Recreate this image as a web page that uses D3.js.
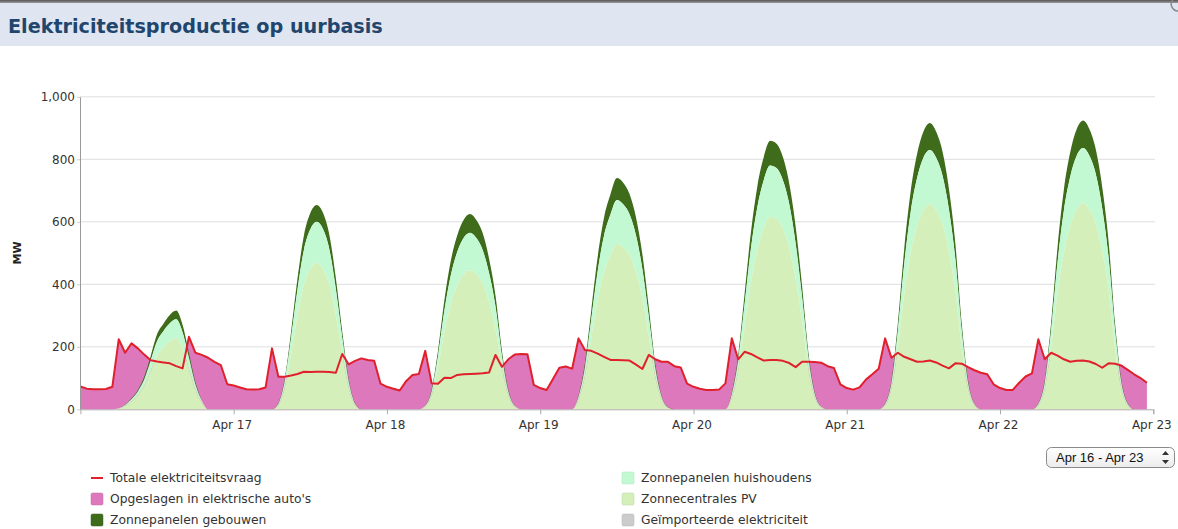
<!DOCTYPE html>
<html>
<head>
<meta charset="utf-8">
<script src="https://cdn.jsdelivr.net/npm/d3@7"></script>
<style>
  html, body { margin: 0; padding: 0; background: #fff; }
  svg { display: block; }
</style>
</head>
<body>
<svg id="chart" width="1178" height="529"></svg>
<script>
// ---------------- DATA ----------------
const title = "Elektriciteitsproductie op uurbasis";
const yLabel = "MW";
const startDate = new Date(2014, 3, 16, 0, 0);   // Apr 16, hourly samples
const endDate = new Date(2014, 3, 23, 0, 0);     // Apr 23
const xTickDates = [17, 18, 19, 20, 21, 22, 23]; // day-of-month of labelled ticks
const yTicks = [0, 200, 400, 600, 800, 1000];
const rangeLabel = "Apr 16 - Apr 23";

// Totale elektriciteitsvraag (MW), hourly, Apr 16 00:00 .. Apr 22 23:00
const demand = [
  73, 66, 64, 64, 65, 72, 224, 181, 211, 195, 175, 157, 153, 150, 147, 138, 131, 232, 181, 174, 165, 152, 141, 80,
  76, 70, 64, 63, 64, 70, 195, 104, 104, 108, 113, 120, 119, 120, 120, 119, 117, 177, 144, 155, 163, 158, 155, 82,
  72, 66, 60, 90, 110, 113, 187, 83, 82, 101, 100, 110, 112, 113, 114, 115, 118, 174, 136, 160, 175, 177, 176, 78,
  68, 62, 97, 133, 137, 130, 227, 190, 187, 178, 168, 158, 158, 157, 156, 143, 129, 174, 160, 152, 152, 138, 134, 82,
  72, 66, 62, 62, 63, 83, 227, 160, 184, 177, 166, 156, 158, 158, 155, 148, 135, 152, 152, 151, 149, 138, 132, 80,
  68, 63, 70, 95, 112, 130, 227, 165, 181, 168, 160, 152, 153, 156, 150, 140, 131, 147, 146, 135, 125, 117, 112, 80,
  68, 62, 62, 85, 105, 115, 224, 160, 181, 172, 160, 152, 155, 156, 153, 145, 133, 147, 146, 140, 126, 112, 100, 85
];

// Zonnecentrales PV (MW)
const solarPV = [
  0, 0, 0, 0, 0, 0, 2, 11, 25, 45, 75, 122, 172, 197, 217, 227, 194, 129, 63, 22, 0, 0, 0, 0,
  0, 0, 0, 0, 0, 0, 0, 14, 70, 178, 300, 398, 449, 468, 449, 398, 300, 178, 70, 14, 0, 0, 0, 0,
  0, 0, 0, 0, 0, 0, 9, 45, 134, 249, 338, 396, 432, 445, 432, 401, 343, 258, 134, 45, 9, 0, 0, 0,
  0, 0, 0, 0, 0, 0, 32, 106, 227, 349, 439, 492, 529, 518, 492, 439, 354, 233, 106, 32, 5, 0, 0, 0,
  0, 0, 0, 0, 0, 0, 37, 123, 264, 406, 510, 578, 615, 609, 578, 517, 418, 283, 129, 37, 6, 0, 0, 0,
  0, 0, 0, 0, 0, 0, 13, 66, 197, 368, 499, 585, 637, 657, 637, 591, 506, 381, 197, 66, 13, 0, 0, 0,
  0, 0, 0, 0, 0, 0, 13, 66, 198, 369, 501, 587, 639, 659, 639, 593, 507, 382, 198, 66, 13, 0, 0, 0
];

// Zonnepanelen huishoudens (MW)
const solarHouseholds = [
  0, 0, 0, 0, 0, 0, 1, 3, 7, 12, 20, 33, 46, 53, 58, 61, 52, 35, 17, 6, 0, 0, 0, 0,
  0, 0, 0, 0, 0, 0, 0, 4, 20, 50, 84, 112, 127, 132, 127, 112, 84, 50, 20, 4, 0, 0, 0, 0,
  0, 0, 0, 0, 0, 0, 2, 12, 36, 67, 91, 107, 116, 120, 116, 108, 92, 70, 36, 12, 2, 0, 0, 0,
  0, 0, 0, 0, 0, 0, 8, 28, 61, 93, 117, 131, 141, 138, 131, 117, 94, 62, 28, 8, 1, 0, 0, 0,
  0, 0, 0, 0, 0, 0, 10, 33, 71, 109, 137, 155, 165, 163, 155, 139, 112, 76, 35, 10, 2, 0, 0, 0,
  0, 0, 0, 0, 0, 0, 3, 17, 52, 97, 131, 154, 168, 173, 168, 156, 133, 100, 52, 17, 3, 0, 0, 0,
  0, 0, 0, 0, 0, 0, 4, 18, 53, 99, 135, 158, 172, 177, 172, 159, 136, 103, 53, 18, 4, 0, 0, 0
];

// Zonnepanelen gebouwen (MW)
const solarBuildings = [
  0, 0, 0, 0, 0, 0, 0, 1, 3, 5, 10, 15, 22, 24, 27, 28, 24, 16, 8, 2, 0, 0, 0, 0,
  0, 0, 0, 0, 0, 0, 0, 2, 8, 21, 35, 46, 52, 54, 52, 46, 35, 21, 8, 2, 0, 0, 0, 0,
  0, 0, 0, 0, 0, 0, 1, 6, 18, 34, 46, 53, 58, 60, 58, 54, 46, 35, 18, 6, 1, 0, 0, 0,
  0, 0, 0, 0, 0, 0, 4, 14, 30, 46, 58, 65, 70, 69, 65, 58, 47, 31, 14, 4, 1, 0, 0, 0,
  0, 0, 0, 0, 0, 0, 5, 16, 34, 52, 66, 74, 79, 78, 74, 66, 54, 36, 17, 5, 1, 0, 0, 0,
  0, 0, 0, 0, 0, 0, 2, 9, 26, 48, 65, 77, 83, 86, 83, 77, 66, 50, 26, 9, 2, 0, 0, 0,
  0, 0, 0, 0, 0, 0, 2, 9, 26, 49, 67, 78, 85, 88, 85, 79, 68, 51, 26, 9, 2, 0, 0, 0
];

const legendLeft = [
  {name: "Totale elektriciteitsvraag", color: "#e0202c", type: "line"},
  {name: "Opgeslagen in elektrische auto's", color: "#dc78bb", type: "box"},
  {name: "Zonnepanelen gebouwen", color: "#3e6c1b", type: "box"}
];
const legendRight = [
  {name: "Zonnepanelen huishoudens", color: "#c2f9d3", type: "box"},
  {name: "Zonnecentrales PV", color: "#d4efb9", type: "box"},
  {name: "Geïmporteerde elektriciteit", color: "#cccccc", type: "box"}
];

// ---------------- CHART ----------------
const svg = d3.select("#chart");
const W = 1178;

const times = d3.timeHour.range(startDate, d3.timeHour.offset(startDate, demand.length));
const table = times.map((t, i) => ({
  t, demand: demand[i], pv: solarPV[i], hh: solarHouseholds[i], bld: solarBuildings[i]
}));

const x = d3.scaleTime().domain([startDate, endDate]).range([80.4, 1153.3]);
const y = d3.scaleLinear().domain([0, 1000]).range([409.3, 96.8]);

// title bar
const defs = svg.append("defs");
const tg = defs.append("linearGradient").attr("id", "topline").attr("x1", 0).attr("x2", 0).attr("y1", 0).attr("y2", 1);
tg.append("stop").attr("offset", 0).attr("stop-color", "#555");
tg.append("stop").attr("offset", 1).attr("stop-color", "#999");
svg.append("rect").attr("x", 0).attr("y", 0).attr("width", W).attr("height", 46).attr("fill", "#dfe6f1");
svg.append("rect").attr("x", 0).attr("y", 0).attr("width", W).attr("height", 3).attr("fill", "url(#topline)");
svg.append("path").attr("d", "M1172.5,0 A7,7 0 0 0 1178,11").attr("fill", "none").attr("stroke", "#888").attr("stroke-width", 1.5);
const titleText = svg.append("text")
  .attr("x", 8).attr("y", 33)
  .attr("font-family", "'DejaVu Sans', Verdana, sans-serif")
  .attr("font-weight", "bold")
  .attr("font-size", 20)
  .attr("fill", "#21456c")
  .text(title);
{
  const w = titleText.node().getComputedTextLength();
  titleText.attr("font-size", 20 * 375 / w);
}

// gridlines
svg.append("g").selectAll("line").data(yTicks.filter(d => d > 0)).join("line")
  .attr("x1", 80).attr("x2", 1155)
  .attr("y1", d => y(d)).attr("y2", d => y(d))
  .attr("stroke", "#dedede").attr("stroke-width", 1);

// x axis
const xAxis = d3.axisBottom(x)
  .tickValues(xTickDates.map(d => new Date(2014, 3, d)))
  .tickFormat(d3.timeFormat("%b %d"))
  .tickSize(5).tickSizeOuter(5);
const gx = svg.append("g").attr("transform", "translate(0,409.3)").call(xAxis);
gx.select(".domain").attr("stroke", "#aaa");
gx.selectAll(".tick line").attr("stroke", "#aaa");
gx.selectAll("text").attr("font-family", "'DejaVu Sans', Verdana, sans-serif").attr("font-size", 12).attr("fill", "#333").attr("dy", "0.95em").attr("dx", "-2");

// demand-covered area (stored in EV), drawn beneath solar
const pinkArea = d3.area().x(d => x(d.t)).y0(y(0)).y1(d => y(d.demand));
svg.append("path").datum(table).attr("d", pinkArea).attr("fill", "#dc78bb");

// stacked solar
const stack = d3.stack().keys(["pv", "hh", "bld"]);
const series = stack(table);
const solarColors = {pv: "#d4efb9", hh: "#c2f9d3", bld: "#3e6c1b"};
const sArea = d3.area().curve(d3.curveMonotoneX)
  .x(d => x(d.data.t)).y0(d => y(d[0])).y1(d => y(d[1]));
svg.append("g").selectAll("path").data(series.slice().reverse()).join("path")
  .attr("d", sArea).attr("fill", d => solarColors[d.key]);

// demand line
const line = d3.line().x(d => x(d.t)).y(d => y(d.demand));
svg.append("path").datum(table).attr("d", line)
  .attr("fill", "none").attr("stroke", "#e0202c").attr("stroke-width", 2).attr("stroke-linejoin", "round");

// y axis
const yAxis = d3.axisLeft(y).tickValues(yTicks).tickFormat(d3.format(",")).tickSize(3).tickPadding(2).tickSizeOuter(0);
const gy = svg.append("g").attr("transform", "translate(80,0)").call(yAxis);
gy.select(".domain").attr("stroke", "#999");
gy.selectAll(".tick line").attr("stroke", "#ccc");
gy.selectAll("text").attr("font-family", "'DejaVu Sans', Verdana, sans-serif").attr("font-size", 12).attr("fill", "#333");

svg.append("text")
  .attr("transform", "translate(21,253) rotate(-90)")
  .attr("text-anchor", "middle")
  .attr("font-family", "'DejaVu Sans', Verdana, sans-serif")
  .attr("font-weight", "bold").attr("font-size", 11).attr("fill", "#222")
  .text(yLabel);

// legend
function drawLegend(items, x0) {
  const g = svg.append("g");
  items.forEach((it, i) => {
    const cy = 478 + i * 21;
    if (it.type === "line") {
      g.append("line").attr("x1", x0).attr("x2", x0 + 12).attr("y1", cy).attr("y2", cy)
        .attr("stroke", it.color).attr("stroke-width", 2);
    } else {
      g.append("rect").attr("x", x0).attr("y", cy - 6).attr("width", 12).attr("height", 12)
        .attr("rx", 1.5).attr("fill", it.color).attr("stroke", d3.color(it.color).darker(0.3)).attr("stroke-width", 0.5);
    }
    g.append("text").attr("x", x0 + 19).attr("y", cy).attr("dy", "0.35em")
      .attr("font-family", "'DejaVu Sans', Verdana, sans-serif").attr("font-size", 12.3)
      .attr("fill", "#333").text(it.name);
  });
}
drawLegend(legendLeft, 91);
drawLegend(legendRight, 622);

// range selector
const sel = svg.append("g");
const sg = defs.append("linearGradient").attr("id", "selgrad").attr("x1", 0).attr("x2", 0).attr("y1", 0).attr("y2", 1);
sg.append("stop").attr("offset", 0).attr("stop-color", "#ffffff");
sg.append("stop").attr("offset", 1).attr("stop-color", "#ececec");
sel.append("rect").attr("x", 1046.5).attr("y", 447.5).attr("width", 128).attr("height", 20).attr("rx", 5)
  .attr("fill", "url(#selgrad)").attr("stroke", "#8a8a8a");
sel.append("text").attr("x", 1056).attr("y", 457.5).attr("dy", "0.35em")
  .attr("font-family", "'Liberation Sans', Arial, sans-serif").attr("font-size", 13).attr("fill", "#111")
  .text(rangeLabel);
sel.append("path").attr("d", "M1162,455 L1165.5,451 L1169,455 Z M1162,460 L1165.5,464 L1169,460 Z").attr("fill", "#333");
</script>
</body>
</html>
